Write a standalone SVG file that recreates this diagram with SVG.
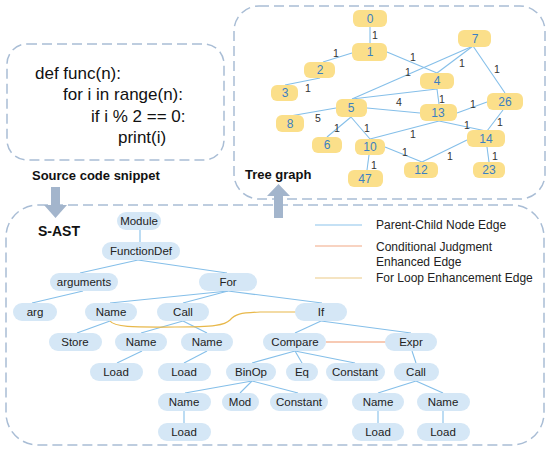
<svg xmlns="http://www.w3.org/2000/svg" width="550" height="450" viewBox="0 0 550 450">
<style>
.box{fill:none;stroke:#a9bdd5;stroke-width:1.5;stroke-dasharray:10 5}
.an rect{fill:#d5e7f6}
.an text{font-family:"Liberation Sans",Arial,sans-serif;font-size:11.5px;fill:#222;text-anchor:middle}
.tn rect{fill:#fbdf8a}
.tn text{font-family:"Liberation Sans",Arial,sans-serif;font-size:12px;fill:#3b80c2;text-anchor:middle}
.e{stroke:#85bfe9;stroke-width:1.1;fill:none}
.lbl{font-family:"Liberation Sans",Arial,sans-serif;font-size:10.5px;fill:#333;text-anchor:middle}
.code{font-family:"Liberation Sans",Arial,sans-serif;font-size:17px;fill:#111}
.title{font-family:"Liberation Sans",Arial,sans-serif;font-weight:bold;fill:#111}
.leg{font-family:"Liberation Sans",Arial,sans-serif;font-size:12px;fill:#222}
.arrow{fill:#a3b5cc}
</style>
<!-- boxes -->
<rect class="box" x="7" y="44" width="217" height="116" rx="20"/>
<rect class="box" x="234" y="6" width="311" height="193" rx="25"/>
<rect class="box" x="6" y="205" width="538" height="240" rx="32"/>
<!-- arrows -->
<g id="arrow-down"><path class="arrow" d="M51,187 H60 V205 H67 L55.5,218 L44,205 H51 Z"/></g>
<g id="arrow-up"><path class="arrow" d="M274,218 V196 H267 L278.5,184 L290,196 H283 V218 Z"/></g>
<!-- source code -->
<g id="source-code">
<text class="code" x="35" y="79">def func(n):</text>
<text class="code" x="63" y="100">for i in range(n):</text>
<text class="code" x="91" y="122">if i % 2 == 0:</text>
<text class="code" x="118" y="143">print(i)</text>
</g>
<text class="title" x="32" y="180" font-size="13">Source code snippet</text>
<text class="title" x="245" y="179" font-size="13">Tree graph</text>
<text class="title" x="38" y="236" font-size="14">S-AST</text>
<!-- legend -->
<g id="legend">
<line x1="315" y1="225" x2="362" y2="225" stroke="#8cc4ec" stroke-width="1.2"/>
<line x1="315" y1="246" x2="362" y2="246" stroke="#f2a883" stroke-width="1.2"/>
<line x1="315" y1="278" x2="362" y2="278" stroke="#ecc986" stroke-width="1.2"/>
<text class="leg" x="376" y="229">Parent-Child Node Edge</text>
<text class="leg" x="376" y="251">Conditional Judgment</text>
<text class="leg" x="376" y="266">Enhanced Edge</text>
<text class="leg" x="376" y="282">For Loop Enhancement Edge</text>
</g>
<!-- tree graph edges -->
<g id="tree-edges">
<line class="e" x1="370" y1="26" x2="370" y2="43"/>
<line class="e" x1="352" y1="53" x2="323" y2="62"/>
<line class="e" x1="320" y1="78" x2="285" y2="85"/>
<line class="e" x1="387" y1="52" x2="437" y2="73"/>
<line class="e" x1="473" y1="46" x2="437" y2="73"/>
<line class="e" x1="473" y1="46" x2="352" y2="99"/>
<line class="e" x1="473" y1="46" x2="505" y2="93"/>
<line class="e" x1="352" y1="99" x2="437" y2="89"/>
<line class="e" x1="437" y1="89" x2="439" y2="104"/>
<line class="e" x1="367" y1="108" x2="420" y2="113"/>
<line class="e" x1="336" y1="108" x2="290" y2="116"/>
<line class="e" x1="351" y1="117" x2="327" y2="137"/>
<line class="e" x1="351" y1="117" x2="370" y2="139"/>
<line class="e" x1="457" y1="113" x2="487" y2="102"/>
<line class="e" x1="439" y1="121" x2="370" y2="139"/>
<line class="e" x1="439" y1="121" x2="486" y2="131"/>
<line class="e" x1="503" y1="110" x2="487" y2="131"/>
<line class="e" x1="385" y1="147" x2="422" y2="162"/>
<line class="e" x1="467" y1="140" x2="422" y2="162"/>
<line class="e" x1="487" y1="147" x2="489" y2="162"/>
<line class="e" x1="369" y1="155" x2="367" y2="170"/>
</g>
<g id="tree-edge-labels">
<text class="lbl" x="375" y="39">1</text>
<text class="lbl" x="336" y="57">1</text>
<text class="lbl" x="308" y="92">1</text>
<text class="lbl" x="413" y="61">1</text>
<text class="lbl" x="462" y="67">1</text>
<text class="lbl" x="408" y="76">1</text>
<text class="lbl" x="497" y="73">1</text>
<text class="lbl" x="442" y="103">1</text>
<text class="lbl" x="399" y="106">4</text>
<text class="lbl" x="318" y="122">5</text>
<text class="lbl" x="337" y="132">1</text>
<text class="lbl" x="367" y="132">1</text>
<text class="lbl" x="473" y="108">1</text>
<text class="lbl" x="467" y="129">1</text>
<text class="lbl" x="413" y="138">1</text>
<text class="lbl" x="500" y="126">1</text>
<text class="lbl" x="405" y="156">1</text>
<text class="lbl" x="450" y="160">1</text>
<text class="lbl" x="495" y="160">1</text>
<text class="lbl" x="374" y="169">1</text>
</g>
<!-- tree graph nodes -->
<g id="t0" class="tn"><rect x="353" y="10" width="34" height="17" rx="6"/><text x="370" y="23">0</text></g>
<g id="t1" class="tn"><rect x="352" y="43" width="35" height="18" rx="6"/><text x="370" y="56">1</text></g>
<g id="t7" class="tn"><rect x="458" y="30" width="33" height="17" rx="6"/><text x="475" y="43">7</text></g>
<g id="t2" class="tn"><rect x="304" y="62" width="31" height="16" rx="6"/><text x="320" y="74">2</text></g>
<g id="t3" class="tn"><rect x="271" y="85" width="27" height="16" rx="6"/><text x="285" y="97">3</text></g>
<g id="t4" class="tn"><rect x="420" y="73" width="34" height="16" rx="6"/><text x="437" y="85">4</text></g>
<g id="t5" class="tn"><rect x="336" y="99" width="31" height="18" rx="6"/><text x="351" y="112">5</text></g>
<g id="t26" class="tn"><rect x="487" y="93" width="36" height="17" rx="6"/><text x="505" y="106">26</text></g>
<g id="t13" class="tn"><rect x="420" y="104" width="37" height="17" rx="6"/><text x="438" y="117">13</text></g>
<g id="t8" class="tn"><rect x="276" y="115" width="28" height="17" rx="6"/><text x="290" y="128">8</text></g>
<g id="t6" class="tn"><rect x="312" y="137" width="30" height="16" rx="6"/><text x="327" y="149">6</text></g>
<g id="t10" class="tn"><rect x="355" y="139" width="30" height="16" rx="6"/><text x="370" y="151">10</text></g>
<g id="t14" class="tn"><rect x="467" y="130" width="38" height="17" rx="6"/><text x="486" y="143">14</text></g>
<g id="t12" class="tn"><rect x="404" y="162" width="34" height="16" rx="6"/><text x="421" y="174">12</text></g>
<g id="t23" class="tn"><rect x="473" y="162" width="32" height="16" rx="6"/><text x="489" y="174">23</text></g>
<g id="t47" class="tn"><rect x="348" y="170" width="35" height="17" rx="6"/><text x="365" y="183">47</text></g>
<!-- AST edges -->
<g id="ast-edges">
<line class="e" x1="140" y1="230" x2="140" y2="242"/>
<line class="e" x1="138" y1="260" x2="80" y2="273"/>
<line class="e" x1="138" y1="260" x2="227" y2="273"/>
<line class="e" x1="83" y1="291" x2="32" y2="303"/>
<line class="e" x1="228" y1="291" x2="110" y2="303"/>
<line class="e" x1="228" y1="291" x2="183" y2="303"/>
<line class="e" x1="228" y1="291" x2="322" y2="303"/>
<line class="e" x1="110" y1="321" x2="77" y2="333"/>
<line class="e" x1="183" y1="321" x2="141" y2="333"/>
<line class="e" x1="183" y1="321" x2="207" y2="333"/>
<line class="e" x1="321" y1="321" x2="295" y2="333"/>
<line class="e" x1="321" y1="321" x2="411" y2="333"/>
<line class="e" x1="142" y1="351" x2="117" y2="363"/>
<line class="e" x1="207" y1="351" x2="184" y2="363"/>
<line class="e" x1="295" y1="351" x2="252" y2="363"/>
<line class="e" x1="295" y1="351" x2="302" y2="363"/>
<line class="e" x1="295" y1="351" x2="355" y2="363"/>
<line class="e" x1="412" y1="351" x2="416" y2="363"/>
<line class="e" x1="252" y1="381" x2="185" y2="393"/>
<line class="e" x1="252" y1="381" x2="240" y2="393"/>
<line class="e" x1="252" y1="381" x2="298" y2="393"/>
<line class="e" x1="416" y1="381" x2="378" y2="393"/>
<line class="e" x1="416" y1="381" x2="443" y2="393"/>
<line class="e" x1="184" y1="411" x2="184" y2="423"/>
<line class="e" x1="378" y1="411" x2="378" y2="423"/>
<line class="e" x1="443" y1="411" x2="443" y2="423"/>
<line x1="326" y1="342" x2="386" y2="342" stroke="#f0956a" stroke-width="1.2"/>
<path d="M110,321 C115,328 140,327 175,327 C215,327 225,325 230,320 C235,314 240,313 260,312 L296,312" fill="none" stroke="#e8b84a" stroke-width="1.2"/>
</g>
<!-- AST nodes -->
<g id="n-module" class="an"><rect x="117" y="212" width="44" height="18" rx="9"/><text x="139" y="225">Module</text></g>
<g id="n-functiondef" class="an"><rect x="102" y="242" width="78" height="18" rx="9"/><text x="141" y="255">FunctionDef</text></g>
<g id="n-arguments" class="an"><rect x="50" y="273" width="68" height="18" rx="9"/><text x="84" y="286">arguments</text></g>
<g id="n-for" class="an"><rect x="199" y="273" width="58" height="18" rx="9"/><text x="228" y="286">For</text></g>
<g id="n-arg" class="an"><rect x="13" y="303" width="44" height="18" rx="9"/><text x="35" y="316">arg</text></g>
<g id="n-name1" class="an"><rect x="85" y="303" width="52" height="18" rx="9"/><text x="111" y="316">Name</text></g>
<g id="n-call1" class="an"><rect x="157" y="303" width="52" height="18" rx="9"/><text x="183" y="316">Call</text></g>
<g id="n-if" class="an"><rect x="295" y="303" width="52" height="18" rx="9"/><text x="321" y="316">If</text></g>
<g id="n-store" class="an"><rect x="49" y="333" width="53" height="18" rx="9"/><text x="75" y="346">Store</text></g>
<g id="n-name2" class="an"><rect x="115" y="333" width="52" height="18" rx="9"/><text x="141" y="346">Name</text></g>
<g id="n-name3" class="an"><rect x="181" y="333" width="52" height="18" rx="9"/><text x="207" y="346">Name</text></g>
<g id="n-compare" class="an"><rect x="263" y="333" width="63" height="18" rx="9"/><text x="295" y="346">Compare</text></g>
<g id="n-expr" class="an"><rect x="385" y="333" width="52" height="18" rx="9"/><text x="411" y="346">Expr</text></g>
<g id="n-load1" class="an"><rect x="90" y="363" width="53" height="18" rx="9"/><text x="116" y="376">Load</text></g>
<g id="n-load2" class="an"><rect x="158" y="363" width="53" height="18" rx="9"/><text x="184" y="376">Load</text></g>
<g id="n-binop" class="an"><rect x="226" y="363" width="50" height="18" rx="9"/><text x="251" y="376">BinOp</text></g>
<g id="n-eq" class="an"><rect x="286" y="363" width="32" height="18" rx="9"/><text x="302" y="376">Eq</text></g>
<g id="n-constant1" class="an"><rect x="326" y="363" width="59" height="18" rx="9"/><text x="355" y="376">Constant</text></g>
<g id="n-call2" class="an"><rect x="394" y="363" width="45" height="18" rx="9"/><text x="416" y="376">Call</text></g>
<g id="n-name4" class="an"><rect x="158" y="393" width="53" height="18" rx="9"/><text x="184" y="406">Name</text></g>
<g id="n-mod" class="an"><rect x="222" y="393" width="37" height="18" rx="9"/><text x="240" y="406">Mod</text></g>
<g id="n-constant2" class="an"><rect x="270" y="393" width="58" height="18" rx="9"/><text x="299" y="406">Constant</text></g>
<g id="n-name5" class="an"><rect x="352" y="393" width="52" height="18" rx="9"/><text x="378" y="406">Name</text></g>
<g id="n-name6" class="an"><rect x="417" y="393" width="53" height="18" rx="9"/><text x="443" y="406">Name</text></g>
<g id="n-load3" class="an"><rect x="158" y="423" width="53" height="18" rx="9"/><text x="184" y="436">Load</text></g>
<g id="n-load4" class="an"><rect x="352" y="423" width="52" height="18" rx="9"/><text x="378" y="436">Load</text></g>
<g id="n-load5" class="an"><rect x="417" y="423" width="53" height="18" rx="9"/><text x="443" y="436">Load</text></g>
</svg>
